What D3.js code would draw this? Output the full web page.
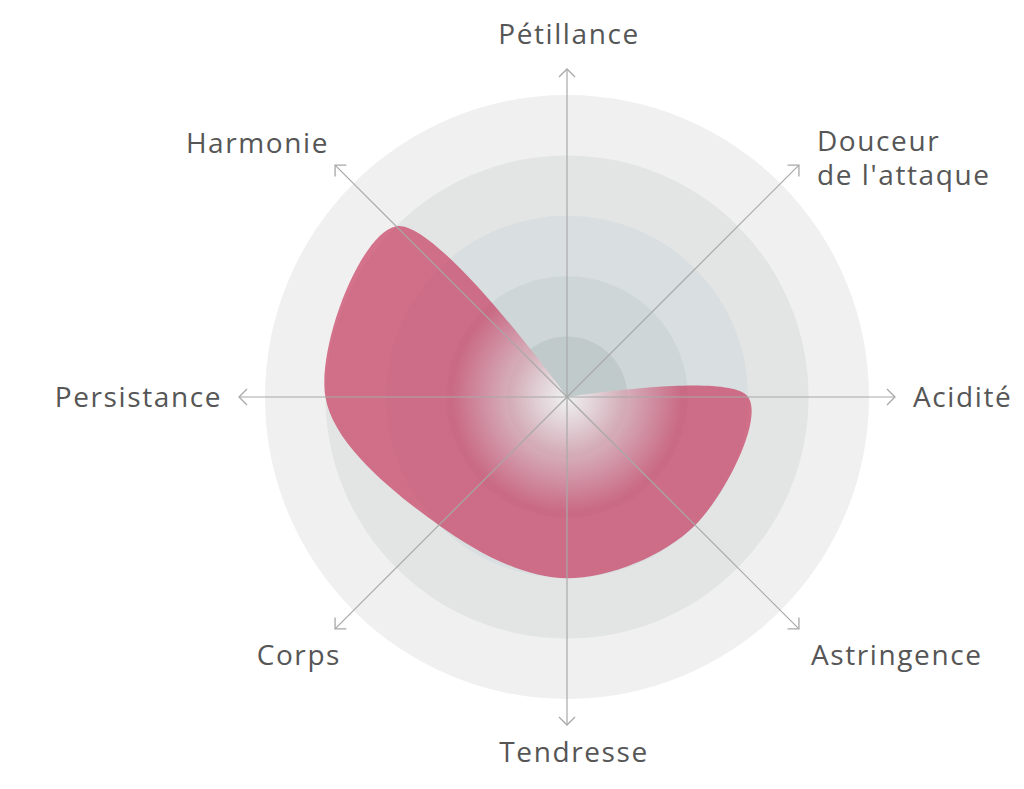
<!DOCTYPE html>
<html>
<head>
<meta charset="utf-8">
<script src="https://cdn.jsdelivr.net/npm/d3@7"></script>
<style>
  html, body { margin: 0; padding: 0; background: #ffffff; }
  svg { display: block; }
  .lbl { font-family: "Open Sans", "Noto Sans", sans-serif; font-size: 28px; fill: #565656; letter-spacing: 1.6px; }
</style>
</head>
<body>
<svg id="chart" width="1024" height="789"></svg>
<script>
// ---- data ----
const axes = ["Pétillance", "Douceur de l'attaque", "Acidité", "Astringence", "Tendresse", "Corps", "Persistance", "Harmonie"];
const axisLabelLines = [["Pétillance"], ["Douceur", "de l'attaque"], ["Acidité"], ["Astringence"], ["Tendresse"], ["Corps"], ["Persistance"], ["Harmonie"]];
const values = [0, 0, 3, 3, 3, 3, 4, 4];
const levels = [1, 2, 3, 4, 5];
const maxValue = 5;

// ---- layout ----
const width = 1024, height = 789;
const cx = 567, cy = 397;
const ringColors = ["#c1caca", "#ced6d8", "#d9dee0", "#e3e5e5", "#f0f0f0"];

const svg = d3.select("#chart");
const g = svg.append("g").attr("transform", `translate(${cx},${cy})`);

const r = d3.scaleLinear().domain([0, maxValue]).range([0, 302]);
const ang = (i) => (2 * Math.PI * i) / axes.length; // 0 = up, clockwise

const defs = svg.append("defs");
defs.append("marker")
  .attr("id", "arrow")
  .attr("viewBox", "-10 -10 20 20")
  .attr("markerWidth", 20).attr("markerHeight", 20)
  .attr("markerUnits", "userSpaceOnUse")
  .attr("orient", "auto")
  .append("path")
  .attr("d", "M-8,-8L0,0L-8,8")
  .attr("fill", "none")
  .attr("stroke", "#a8a8a8")
  .attr("stroke-width", 1.3);

const grad = defs.append("radialGradient")
  .attr("id", "pinkGrad")
  .attr("gradientUnits", "userSpaceOnUse")
  .attr("cx", 0).attr("cy", 0).attr("r", r(maxValue));
[
  [0, "#ffffff", 0.75],
  [0.09, "#efd6dd", 0.72],
  [0.22, "#d68fa3", 0.7],
  [0.38, "#c83c60", 0.7],
  [1, "#c83c60", 0.7]
].forEach(([o, c, op]) => grad.append("stop").attr("offset", o).attr("stop-color", c).attr("stop-opacity", op));

// rings (outer first)
g.selectAll("circle.ring")
  .data(levels.slice().reverse())
  .join("circle")
  .attr("class", "ring")
  .attr("r", d => r(d))
  .attr("fill", (d) => ringColors[d - 1]);

// shape
const line = d3.lineRadial()
  .angle((d, i) => ang(i))
  .radius(d => r(d))
  .curve(d3.curveCatmullRomClosed.alpha(0.5));

g.append("path")
  .datum(values)
  .attr("d", line)
  .attr("fill", "url(#pinkGrad)");

// axes
const axisEnd = r(maxValue) + 26;
g.selectAll("line.axis")
  .data(axes)
  .join("line")
  .attr("class", "axis")
  .attr("x1", 0).attr("y1", 0)
  .attr("x2", (d, i) => axisEnd * Math.sin(ang(i)))
  .attr("y2", (d, i) => -axisEnd * Math.cos(ang(i)))
  .attr("stroke", "#a8a8a8")
  .attr("stroke-width", 1.2)
  .attr("marker-end", "url(#arrow)");

// labels
const labelR = r(maxValue) + 43;
const nudge = { "Corps": [18, 0], "Tendresse": [7, 0], "Douceur de l'attaque": [6, -2], "Harmonie": [6, 0], "Pétillance": [2, -2], "Acidité": [1, 0] };
axes.forEach((name, i) => {
  const a = ang(i);
  const s = Math.sin(a), c = -Math.cos(a);
  let x = labelR * s, y = labelR * c;
  const anchor = s > 0.1 ? "start" : s < -0.1 ? "end" : "middle";
  let dy;
  if (c < -0.9) dy = -6;        // top
  else if (c < -0.1) dy = 0;    // upper diagonals
  else if (c > 0.9) dy = 20;    // bottom
  else if (c > 0.1) dy = 24;    // lower diagonals
  else dy = 10;                 // horizontal
  const nd = nudge[name] || [0, 0];
  const t = g.append("text")
    .attr("class", "lbl")
    .attr("text-anchor", anchor)
    .attr("x", x + nd[0])
    .attr("y", y + dy + nd[1]);
  axisLabelLines[i].forEach((ln, k) => {
    t.append("tspan").attr("x", x + nd[0]).attr("dy", k === 0 ? 0 : 34).text(ln);
  });
});
</script>
</body>
</html>
